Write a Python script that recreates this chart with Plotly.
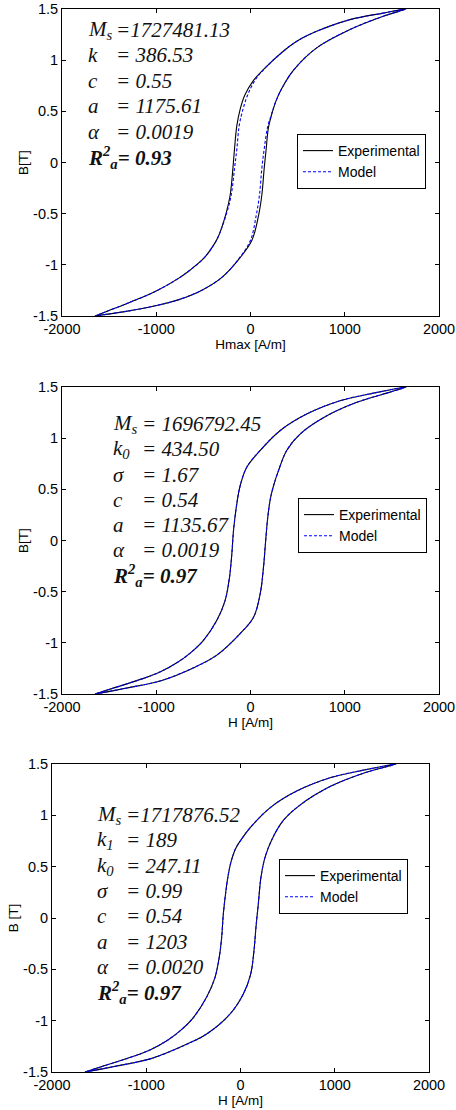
import plotly.graph_objects as go

# ---------------- data ----------------
# Panel 1 - experimental loop: descending branch then ascending branch
P1_EXP_DESC_H = [1650, 1409, 1056, 702, 500, 348, 136, 30, -60, -110, -145, -170, -187, -216, -260, -340, -400, -500, -640, -760, -1010, -1290, -1540, -1650]
P1_EXP_DESC_B = [1.50, 1.46, 1.396, 1.282, 1.19, 1.087, 0.908, 0.80, 0.66, 0.52, 0.36, 0.13, -0.06, -0.32, -0.50, -0.72, -0.82, -0.94, -1.05, -1.13, -1.26, -1.37, -1.46, -1.50]
P1_EXP_ASC_H = [-1650, -1290, -1010, -760, -510, -300, -110, 15, 85, 120, 145, 166, 190, 225, 270, 330, 455, 702, 1056, 1409, 1650]
P1_EXP_ASC_B = [-1.50, -1.45, -1.40, -1.34, -1.245, -1.12, -0.93, -0.76, -0.52, -0.32, -0.06, 0.13, 0.34, 0.47, 0.60, 0.72, 0.90, 1.12, 1.30, 1.43, 1.50]
# Panel 1 - model loop
P1_MOD_DESC_H = [1650, 1409, 1056, 702, 500, 348, 140, 45, -30, -80, -120, -145, -170, -205, -255, -340, -400, -500, -640, -760, -1010, -1290, -1540, -1650]
P1_MOD_DESC_B = [1.50, 1.46, 1.396, 1.282, 1.19, 1.087, 0.908, 0.80, 0.66, 0.52, 0.36, 0.13, -0.06, -0.32, -0.50, -0.72, -0.82, -0.94, -1.05, -1.13, -1.26, -1.37, -1.46, -1.50]
P1_MOD_ASC_H = [-1650, -1290, -1010, -760, -510, -300, -115, 0, 60, 95, 120, 145, 180, 222, 270, 330, 455, 702, 1056, 1409, 1650]
P1_MOD_ASC_B = [-1.50, -1.45, -1.40, -1.34, -1.245, -1.12, -0.93, -0.76, -0.52, -0.32, -0.06, 0.13, 0.34, 0.47, 0.60, 0.72, 0.90, 1.12, 1.30, 1.43, 1.50]

# Panel 2 - experimental loop
P2_EXP_DESC_H = [1650, 1304, 950, 596, 313, 101, -40, -111, -145, -180, -198, -223, -269, -357, -499, -640, -773, -950, -1127, -1481, -1650]
P2_EXP_DESC_B = [1.50, 1.44, 1.366, 1.236, 1.073, 0.878, 0.715, 0.53, 0.36, 0.10, -0.13, -0.36, -0.585, -0.78, -0.975, -1.10, -1.19, -1.28, -1.345, -1.45, -1.50]
P2_EXP_ASC_H = [-1650, -1304, -950, -596, -357, -110, 32, 103, 138, 156, 180, 209, 243, 296, 384, 526, 773, 1127, 1481, 1650]
P2_EXP_ASC_B = [-1.50, -1.44, -1.37, -1.24, -1.12, -0.91, -0.75, -0.52, -0.26, -0.06, 0.20, 0.40, 0.53, 0.68, 0.88, 1.04, 1.20, 1.35, 1.45, 1.50]
# Panel 2 - model loop (overlaps the experimental one)
P2_MOD_DESC_H = [1650, 1304, 950, 596, 313, 101, -40, -111, -145, -180, -198, -223, -269, -357, -499, -640, -773, -950, -1127, -1481, -1650]
P2_MOD_DESC_B = [1.50, 1.44, 1.366, 1.236, 1.073, 0.878, 0.715, 0.53, 0.36, 0.10, -0.13, -0.36, -0.585, -0.78, -0.975, -1.10, -1.19, -1.28, -1.345, -1.45, -1.50]
P2_MOD_ASC_H = [-1650, -1304, -950, -596, -357, -110, 32, 103, 138, 156, 180, 209, 243, 296, 384, 526, 773, 1127, 1481, 1650]
P2_MOD_ASC_B = [-1.50, -1.44, -1.37, -1.24, -1.12, -0.91, -0.75, -0.52, -0.26, -0.06, 0.20, 0.40, 0.53, 0.68, 0.88, 1.04, 1.20, 1.35, 1.45, 1.50]

# Panel 3 - experimental loop
P3_EXP_DESC_H = [1650, 1304, 950, 596, 313, 101, 20, -50, -100, -130, -154, -182, -200, -225, -271, -359, -500, -642, -773, -950, -1127, -1481, -1650]
P3_EXP_DESC_B = [1.50, 1.44, 1.366, 1.236, 1.073, 0.878, 0.78, 0.68, 0.55, 0.42, 0.27, 0.04, -0.19, -0.38, -0.58, -0.77, -0.97, -1.10, -1.19, -1.28, -1.345, -1.45, -1.50]
P3_EXP_ASC_H = [-1650, -1304, -950, -596, -359, -111, 30, 108, 143, 164, 189, 217, 260, 331, 454, 631, 950, 1304, 1650]
P3_EXP_ASC_B = [-1.50, -1.44, -1.37, -1.24, -1.13, -0.935, -0.74, -0.546, -0.318, -0.09, 0.136, 0.396, 0.59, 0.76, 0.95, 1.10, 1.28, 1.41, 1.50]
# Panel 3 - model loop
P3_MOD_DESC_H = [1650, 1304, 950, 596, 313, 101, 20, -50, -100, -130, -154, -182, -200, -225, -271, -359, -500, -642, -773, -950, -1127, -1481, -1650]
P3_MOD_DESC_B = [1.50, 1.44, 1.366, 1.236, 1.073, 0.878, 0.78, 0.68, 0.55, 0.42, 0.27, 0.04, -0.19, -0.38, -0.58, -0.77, -0.97, -1.10, -1.19, -1.28, -1.345, -1.45, -1.50]
P3_MOD_ASC_H = [-1650, -1304, -950, -596, -359, -111, 30, 108, 143, 164, 189, 217, 260, 331, 454, 631, 950, 1304, 1650]
P3_MOD_ASC_B = [-1.50, -1.44, -1.37, -1.24, -1.13, -0.935, -0.74, -0.546, -0.318, -0.09, 0.136, 0.396, 0.59, 0.76, 0.95, 1.10, 1.28, 1.41, 1.50]

# Tick labels
X_TICKS = [-2000, -1000, 0, 1000, 2000]
X_TICKTEXT = ["-2000", "-1000", "0", "1000", "2000"]
Y_TICKS = [-1.5, -1, -0.5, 0, 0.5, 1, 1.5]
Y_TICKTEXT = ["-1.5", "-1", "-0.5", "0", "0.5", "1", "1.5"]

X_TITLES = ["Hmax [A/m]", "H [A/m]", "H [A/m]"]
Y_TITLES = ["B[T]", "B[T]", "B [T]"]
SERIES_NAMES = ["Experimental", "Model"]

# Fitted parameters shown in each panel
P1_NAMES = ["M<sub>s</sub>", "k", "c", "a", "α"]
P1_VALUES = ["=1727481.13", "= 386.53", "= 0.55", "= 1175.61", "= 0.0019"]
P1_R2 = "0.93"
P2_NAMES = ["M<sub>s</sub>", "k<sub>0</sub>", "σ", "c", "a", "α"]
P2_VALUES = ["= 1696792.45", "= 434.50", "= 1.67", "= 0.54", "= 1135.67", "= 0.0019"]
P2_R2 = "0.97"
P3_NAMES = ["M<sub>s</sub>", "k<sub>1</sub>", "k<sub>0</sub>", "σ", "c", "a", "α"]
P3_VALUES = ["=1717876.52", "= 189", "= 247.11", "= 0.99", "= 0.54", "= 1203", "= 0.0020"]
P3_R2 = "0.97"

# ---------------- layout helpers (pixel geometry of the page) ----------------
W, HGT = 456, 1110
def px(x):
    return x / W
def py(y):
    return 1 - y / HGT

# plot areas in pixels: (left, right, top, bottom)
AREAS = [(62, 439, 9, 316), (62, 439, 387, 694), (52, 429, 764, 1072)]
LEGEND_POS = [(297, 134), (298, 498), (279, 859)]
# text block: left x, "=" x, first line y, line step
TEXT_POS = [(87, 115, 30, 25.4), (112, 141, 424, 25.3), (96, 125, 815, 25.3)]

fig = go.Figure()

panels = [
    (P1_EXP_DESC_H + P1_EXP_ASC_H, P1_EXP_DESC_B + P1_EXP_ASC_B,
     P1_MOD_DESC_H + P1_MOD_ASC_H, P1_MOD_DESC_B + P1_MOD_ASC_B,
     P1_NAMES, P1_VALUES, P1_R2),
    (P2_EXP_DESC_H + P2_EXP_ASC_H, P2_EXP_DESC_B + P2_EXP_ASC_B,
     P2_MOD_DESC_H + P2_MOD_ASC_H, P2_MOD_DESC_B + P2_MOD_ASC_B,
     P2_NAMES, P2_VALUES, P2_R2),
    (P3_EXP_DESC_H + P3_EXP_ASC_H, P3_EXP_DESC_B + P3_EXP_ASC_B,
     P3_MOD_DESC_H + P3_MOD_ASC_H, P3_MOD_DESC_B + P3_MOD_ASC_B,
     P3_NAMES, P3_VALUES, P3_R2),
]

annotations = []
layout_axes = {}
TEXT_FONT = dict(family="Liberation Serif, Times New Roman, serif", size=21, color="#111111")
SANS = "Liberation Sans, Arial, sans-serif"

for i, (eh, eb, mh, mb, names, values, r2) in enumerate(panels):
    n = i + 1
    xa = "x" if n == 1 else f"x{n}"
    ya = "y" if n == 1 else f"y{n}"
    lg = "legend" if n == 1 else f"legend{n}"
    fig.add_trace(go.Scatter(x=eh, y=eb, mode="lines", name=SERIES_NAMES[0],
                             line=dict(color="black", width=1.1, shape="spline", smoothing=1.0),
                             xaxis=xa, yaxis=ya, legend=lg))
    fig.add_trace(go.Scatter(x=mh, y=mb, mode="lines", name=SERIES_NAMES[1],
                             line=dict(color="#0000ff", width=1.1, dash="3px,2px", shape="spline", smoothing=1.0),
                             xaxis=xa, yaxis=ya, legend=lg))
    l, r, t, b = AREAS[i]
    axis_common = dict(showline=True, linecolor="black", linewidth=1, mirror="ticks",
                       ticks="inside", ticklen=4, tickwidth=1, tickcolor="black",
                       showgrid=False, zeroline=False, automargin=False,
                       ticklabeloverflow="allow",
                       tickfont=dict(family=SANS, size=14.5, color="black"))
    layout_axes["xaxis" if n == 1 else f"xaxis{n}"] = dict(
        axis_common, domain=[px(l), px(r)], range=[-2000, 2000],
        tickvals=X_TICKS, ticktext=X_TICKTEXT, anchor=ya,
        title=dict(text=X_TITLES[i], standoff=2, font=dict(family=SANS, size=13.5, color="black")))
    layout_axes["yaxis" if n == 1 else f"yaxis{n}"] = dict(
        axis_common, domain=[py(b), py(t)], range=[-1.5, 1.5],
        tickvals=Y_TICKS, ticktext=Y_TICKTEXT, anchor=xa,
        title=dict(text=Y_TITLES[i], standoff=1, font=dict(family=SANS, size=13.5, color="black")))
    lx, ly = LEGEND_POS[i]
    layout_axes[lg] = dict(x=px(lx), y=py(ly), xanchor="left", yanchor="top",
                           bgcolor="white", bordercolor="black", borderwidth=1,
                           font=dict(family=SANS, size=14, color="black"),
                           itemwidth=30, tracegroupgap=0)
    tx0, teq, ty0, step = TEXT_POS[i]
    for j, (nm, val) in enumerate(zip(names, values)):
        yy = ty0 + j * step
        annotations.append(dict(text=f"<i>{nm}</i>", x=px(tx0), y=py(yy), xref="paper", yref="paper",
                                xanchor="left", yanchor="middle", showarrow=False, borderpad=0, font=TEXT_FONT))
        annotations.append(dict(text=f"<i>{val}</i>", x=px(teq), y=py(yy), xref="paper", yref="paper",
                                xanchor="left", yanchor="middle", showarrow=False, borderpad=0, font=TEXT_FONT))
    yy = ty0 + len(names) * step
    annotations.append(dict(text=f"<b><i>R<sup>2</sup><sub>a</sub>= {r2}</i></b>", x=px(tx0), y=py(yy),
                            xref="paper", yref="paper", xanchor="left", yanchor="middle",
                            showarrow=False, borderpad=0, font=TEXT_FONT))

fig.update_layout(width=W, height=HGT, margin=dict(l=0, r=0, t=0, b=0, autoexpand=False),
                  paper_bgcolor="white", plot_bgcolor="white",
                  annotations=annotations, **layout_axes)

# the page's default body margin would shift the whole figure; remove it
fig.write_html("out.html", config={"displayModeBar": False},
               post_script="document.body.style.margin='0px';document.body.style.overflow='hidden';")
